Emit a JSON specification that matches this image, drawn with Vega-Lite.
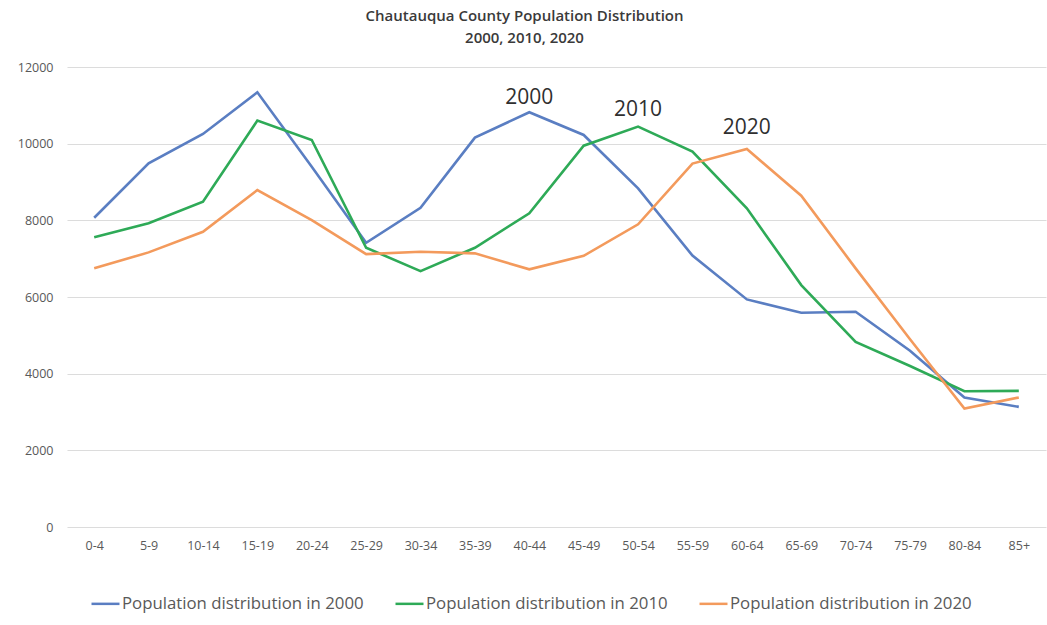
{
  "$schema": "https://vega.github.io/schema/vega-lite/v6.json",
  "autosize": {"type": "none"},
  "width": 979,
  "height": 460,
  "padding": {"left": 67, "top": 67, "right": 1, "bottom": 98},
  "background": "white",
  "view": {"stroke": null},
  "title": {
    "text": ["Chautauqua County Population Distribution", "2000, 2010, 2020"],
    "font": "Open Sans",
    "fontSize": 15,
    "fontWeight": 600,
    "color": "#3a3a3a",
    "lineHeight": 22,
    "anchor": "middle",
    "dx": -32,
    "offset": 15
  },
  "datasets": {
    "pop": [
      {"age": "0-4", "series": "Population distribution in 2000", "value": 8068},
      {"age": "5-9", "series": "Population distribution in 2000", "value": 9488},
      {"age": "10-14", "series": "Population distribution in 2000", "value": 10253},
      {"age": "15-19", "series": "Population distribution in 2000", "value": 11342},
      {"age": "20-24", "series": "Population distribution in 2000", "value": 9400},
      {"age": "25-29", "series": "Population distribution in 2000", "value": 7415},
      {"age": "30-34", "series": "Population distribution in 2000", "value": 8329},
      {"age": "35-39", "series": "Population distribution in 2000", "value": 10157},
      {"age": "40-44", "series": "Population distribution in 2000", "value": 10820},
      {"age": "45-49", "series": "Population distribution in 2000", "value": 10227},
      {"age": "50-54", "series": "Population distribution in 2000", "value": 8835},
      {"age": "55-59", "series": "Population distribution in 2000", "value": 7080},
      {"age": "60-64", "series": "Population distribution in 2000", "value": 5937},
      {"age": "65-69", "series": "Population distribution in 2000", "value": 5588},
      {"age": "70-74", "series": "Population distribution in 2000", "value": 5614},
      {"age": "75-79", "series": "Population distribution in 2000", "value": 4600},
      {"age": "80-84", "series": "Population distribution in 2000", "value": 3378},
      {"age": "85+", "series": "Population distribution in 2000", "value": 3133},
      {"age": "0-4", "series": "Population distribution in 2010", "value": 7556},
      {"age": "5-9", "series": "Population distribution in 2010", "value": 7922},
      {"age": "10-14", "series": "Population distribution in 2010", "value": 8486},
      {"age": "15-19", "series": "Population distribution in 2010", "value": 10601},
      {"age": "20-24", "series": "Population distribution in 2010", "value": 10097},
      {"age": "25-29", "series": "Population distribution in 2010", "value": 7285},
      {"age": "30-34", "series": "Population distribution in 2010", "value": 6676},
      {"age": "35-39", "series": "Population distribution in 2010", "value": 7285},
      {"age": "40-44", "series": "Population distribution in 2010", "value": 8183},
      {"age": "45-49", "series": "Population distribution in 2010", "value": 9948},
      {"age": "50-54", "series": "Population distribution in 2010", "value": 10444},
      {"age": "55-59", "series": "Population distribution in 2010", "value": 9791},
      {"age": "60-64", "series": "Population distribution in 2010", "value": 8313},
      {"age": "65-69", "series": "Population distribution in 2010", "value": 6311},
      {"age": "70-74", "series": "Population distribution in 2010", "value": 4830},
      {"age": "75-79", "series": "Population distribution in 2010", "value": 4200},
      {"age": "80-84", "series": "Population distribution in 2010", "value": 3543},
      {"age": "85+", "series": "Population distribution in 2010", "value": 3551},
      {"age": "0-4", "series": "Population distribution in 2020", "value": 6747},
      {"age": "5-9", "series": "Population distribution in 2020", "value": 7164},
      {"age": "10-14", "series": "Population distribution in 2020", "value": 7702},
      {"age": "15-19", "series": "Population distribution in 2020", "value": 8791},
      {"age": "20-24", "series": "Population distribution in 2020", "value": 8008},
      {"age": "25-29", "series": "Population distribution in 2020", "value": 7120},
      {"age": "30-34", "series": "Population distribution in 2020", "value": 7180},
      {"age": "35-39", "series": "Population distribution in 2020", "value": 7138},
      {"age": "40-44", "series": "Population distribution in 2020", "value": 6721},
      {"age": "45-49", "series": "Population distribution in 2020", "value": 7076},
      {"age": "50-54", "series": "Population distribution in 2020", "value": 7896},
      {"age": "55-59", "series": "Population distribution in 2020", "value": 9480},
      {"age": "60-64", "series": "Population distribution in 2020", "value": 9862},
      {"age": "65-69", "series": "Population distribution in 2020", "value": 8642},
      {"age": "70-74", "series": "Population distribution in 2020", "value": 6747},
      {"age": "75-79", "series": "Population distribution in 2020", "value": 4900},
      {"age": "80-84", "series": "Population distribution in 2020", "value": 3091},
      {"age": "85+", "series": "Population distribution in 2020", "value": 3378}
    ],
    "notes": [
      {"age": "40-44", "value": 11185, "label": "2000"},
      {"age": "50-54", "value": 10880, "label": "2010"},
      {"age": "60-64", "value": 10418, "label": "2020"}
    ]
  },
  "encoding": {
    "x": {
      "field": "age",
      "type": "nominal",
      "scale": {"domain": ["0-4","5-9","10-14","15-19","20-24","25-29","30-34","35-39","40-44","45-49","50-54","55-59","60-64","65-69","70-74","75-79","80-84","85+"], "paddingOuter": 0.5},
      "axis": {
        "title": null,
        "labelAngle": 0,
        "labelFont": "Open Sans",
        "labelFontSize": 12.5,
        "labelColor": "#595959",
        "labelPadding": 12,
        "domain": false,
        "ticks": false,
        "grid": false
      }
    },
    "y": {
      "field": "value",
      "type": "quantitative",
      "scale": {"domain": [0, 12000], "nice": false},
      "axis": {
        "title": null,
        "values": [0, 2000, 4000, 6000, 8000, 10000, 12000],
        "format": "d",
        "labelFont": "Open Sans",
        "labelFontSize": 12.5,
        "labelColor": "#595959",
        "labelPadding": 14,
        "domain": false,
        "ticks": false,
        "grid": true,
        "gridColor": "#dcdcdc",
        "gridWidth": 1.2
      }
    }
  },
  "layer": [
    {
      "data": {"name": "pop"},
      "mark": {"type": "line", "strokeWidth": 2.6},
      "encoding": {
        "color": {
          "field": "series",
          "type": "nominal",
          "scale": {
            "domain": ["Population distribution in 2000", "Population distribution in 2010", "Population distribution in 2020"],
            "range": ["#5a7ec2", "#2eaa57", "#f39a5c"]
          },
          "legend": {
            "title": null,
            "orient": "none",
            "direction": "horizontal",
            "legendX": 23,
            "legendY": 521,
            "symbolType": "stroke",
            "symbolSize": 784,
            "symbolStrokeWidth": 2.5,
            "labelFont": "Open Sans",
            "labelFontSize": 16.8,
            "labelColor": "#595959",
            "labelOffset": 1,
            "columnPadding": 26,
            "labelLimit": 400
          }
        }
      }
    },
    {
      "data": {"name": "notes"},
      "mark": {"type": "text", "font": "Open Sans", "fontSize": 21, "color": "#2f2f2f", "baseline": "middle", "align": "center"},
      "encoding": {
        "text": {"field": "label", "type": "nominal"}
      }
    }
  ]
}
